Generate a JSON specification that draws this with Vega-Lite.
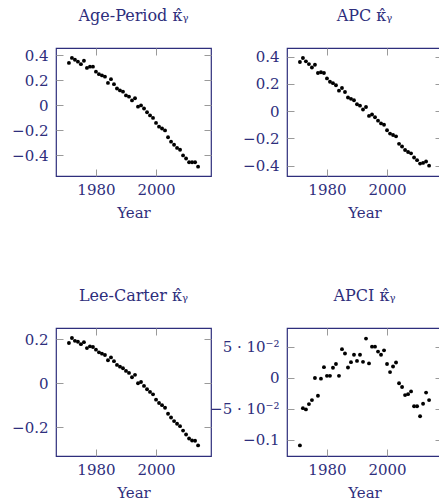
{
  "$schema": "https://vega.github.io/schema/vega-lite/v6.json",
  "padding": {"left": 10, "top": 6, "right": 0, "bottom": 0},
  "background": "white",
  "datasets": {
    "ap": [
      {"year":1971,"k":0.34},{"year":1972,"k":0.38},{"year":1973,"k":0.365},{"year":1974,"k":0.35},{"year":1975,"k":0.33},
      {"year":1976,"k":0.357},{"year":1977,"k":0.30},{"year":1978,"k":0.31},{"year":1979,"k":0.31},{"year":1980,"k":0.27},
      {"year":1981,"k":0.25},{"year":1982,"k":0.24},{"year":1983,"k":0.23},{"year":1984,"k":0.18},{"year":1985,"k":0.21},
      {"year":1986,"k":0.17},{"year":1987,"k":0.135},{"year":1988,"k":0.12},{"year":1989,"k":0.11},{"year":1990,"k":0.08},
      {"year":1991,"k":0.07},{"year":1992,"k":0.04},{"year":1993,"k":0.057},{"year":1994,"k":-0.01},{"year":1995,"k":0.0},
      {"year":1996,"k":-0.025},{"year":1997,"k":-0.055},{"year":1998,"k":-0.08},{"year":1999,"k":-0.10},{"year":2000,"k":-0.14},
      {"year":2001,"k":-0.17},{"year":2002,"k":-0.185},{"year":2003,"k":-0.20},{"year":2004,"k":-0.255},{"year":2005,"k":-0.29},
      {"year":2006,"k":-0.315},{"year":2007,"k":-0.34},{"year":2008,"k":-0.355},{"year":2009,"k":-0.40},{"year":2010,"k":-0.425},
      {"year":2011,"k":-0.455},{"year":2012,"k":-0.455},{"year":2013,"k":-0.455},{"year":2014,"k":-0.49}
    ],
    "apc": [
      {"year":1971,"k":0.36},{"year":1972,"k":0.39},{"year":1973,"k":0.365},{"year":1974,"k":0.345},{"year":1975,"k":0.32},
      {"year":1976,"k":0.34},{"year":1977,"k":0.28},{"year":1978,"k":0.285},{"year":1979,"k":0.28},{"year":1980,"k":0.24},
      {"year":1981,"k":0.215},{"year":1982,"k":0.205},{"year":1983,"k":0.19},{"year":1984,"k":0.15},{"year":1985,"k":0.17},
      {"year":1986,"k":0.14},{"year":1987,"k":0.10},{"year":1988,"k":0.09},{"year":1989,"k":0.08},{"year":1990,"k":0.05},
      {"year":1991,"k":0.04},{"year":1992,"k":0.012},{"year":1993,"k":0.03},{"year":1994,"k":-0.035},{"year":1995,"k":-0.025},
      {"year":1996,"k":-0.045},{"year":1997,"k":-0.07},{"year":1998,"k":-0.09},{"year":1999,"k":-0.10},{"year":2000,"k":-0.14},
      {"year":2001,"k":-0.165},{"year":2002,"k":-0.175},{"year":2003,"k":-0.185},{"year":2004,"k":-0.24},{"year":2005,"k":-0.26},
      {"year":2006,"k":-0.285},{"year":2007,"k":-0.30},{"year":2008,"k":-0.31},{"year":2009,"k":-0.34},{"year":2010,"k":-0.36},
      {"year":2011,"k":-0.385},{"year":2012,"k":-0.38},{"year":2013,"k":-0.37},{"year":2014,"k":-0.40}
    ],
    "lc": [
      {"year":1971,"k":0.182},{"year":1972,"k":0.205},{"year":1973,"k":0.192},{"year":1974,"k":0.188},{"year":1975,"k":0.177},
      {"year":1976,"k":0.186},{"year":1977,"k":0.159},{"year":1978,"k":0.167},{"year":1979,"k":0.164},{"year":1980,"k":0.152},
      {"year":1981,"k":0.14},{"year":1982,"k":0.134},{"year":1983,"k":0.128},{"year":1984,"k":0.104},{"year":1985,"k":0.117},
      {"year":1986,"k":0.10},{"year":1987,"k":0.083},{"year":1988,"k":0.075},{"year":1989,"k":0.068},{"year":1990,"k":0.056},
      {"year":1991,"k":0.047},{"year":1992,"k":0.027},{"year":1993,"k":0.038},{"year":1994,"k":0.0},{"year":1995,"k":0.006},
      {"year":1996,"k":-0.012},{"year":1997,"k":-0.027},{"year":1998,"k":-0.039},{"year":1999,"k":-0.05},{"year":2000,"k":-0.074},
      {"year":2001,"k":-0.089},{"year":2002,"k":-0.099},{"year":2003,"k":-0.111},{"year":2004,"k":-0.138},{"year":2005,"k":-0.155},
      {"year":2006,"k":-0.171},{"year":2007,"k":-0.183},{"year":2008,"k":-0.194},{"year":2009,"k":-0.214},{"year":2010,"k":-0.232},
      {"year":2011,"k":-0.25},{"year":2012,"k":-0.259},{"year":2013,"k":-0.26},{"year":2014,"k":-0.281}
    ],
    "apci": [
      {"year":1971,"k":-0.109},{"year":1972,"k":-0.049},{"year":1973,"k":-0.051},{"year":1974,"k":-0.0425},{"year":1975,"k":-0.036},
      {"year":1976,"k":-0.0005},{"year":1977,"k":-0.029},{"year":1978,"k":-0.0015},{"year":1979,"k":0.017},{"year":1980,"k":0.003},
      {"year":1981,"k":0.003},{"year":1982,"k":0.016},{"year":1983,"k":0.022},{"year":1984,"k":0.003},{"year":1985,"k":0.046},
      {"year":1986,"k":0.039},{"year":1987,"k":0.0165},{"year":1988,"k":0.025},{"year":1989,"k":0.037},{"year":1990,"k":0.027},
      {"year":1991,"k":0.037},{"year":1992,"k":0.0255},{"year":1993,"k":0.063},{"year":1994,"k":0.023},{"year":1995,"k":0.05},
      {"year":1996,"k":0.05},{"year":1997,"k":0.042},{"year":1998,"k":0.037},{"year":1999,"k":0.044},{"year":2000,"k":0.022},
      {"year":2001,"k":0.009},{"year":2002,"k":0.018},{"year":2003,"k":0.0245},{"year":2004,"k":-0.009},{"year":2005,"k":-0.015},
      {"year":2006,"k":-0.028},{"year":2007,"k":-0.0265},{"year":2008,"k":-0.022},{"year":2009,"k":-0.046},{"year":2010,"k":-0.046},
      {"year":2011,"k":-0.062},{"year":2012,"k":-0.042},{"year":2013,"k":-0.024},{"year":2014,"k":-0.036}
    ]
  },
  "bounds": "flush",
  "columns": 2,
  "spacing": {"row": 152, "column": 76},
  "concat": [
    {
      "title": {"text": "Age-Period κ̂ᵧ"},
      "width": 155, "height": 128,
      "data": {"name": "ap"},
      "layer": [
        {"mark": {"type": "circle", "size": 15, "color": "#000000", "opacity": 1},
         "encoding": {
           "x": {"field": "year", "type": "quantitative", "scale": {"domain": [1966.7, 2018.3], "nice": false, "zero": false}, "axis": {"orient": "bottom", "values": [1980, 2000], "format": "d", "title": "Year", "labelPadding": 13}},
           "y": {"field": "k", "type": "quantitative", "scale": {"domain": [-0.5645, 0.459], "nice": false, "zero": false}, "axis": {"orient": "left", "values": [-0.4, -0.2, 0, 0.2, 0.4], "format": ".1~f", "title": null}}}},
        {"mark": {"type": "circle", "opacity": 0},
         "encoding": {
           "x": {"field": "year", "type": "quantitative", "axis": {"orient": "top", "values": [1980, 2000], "labels": false, "title": null}},
           "y": {"field": "k", "type": "quantitative", "axis": {"orient": "right", "values": [-0.4, -0.2, 0, 0.2, 0.4], "labels": false, "title": null}}}}
      ],
      "resolve": {"axis": {"x": "independent", "y": "independent"}}
    },
    {
      "title": {"text": "APC κ̂ᵧ"},
      "width": 155, "height": 128,
      "data": {"name": "apc"},
      "layer": [
        {"mark": {"type": "circle", "size": 15, "color": "#000000", "opacity": 1},
         "encoding": {
           "x": {"field": "year", "type": "quantitative", "scale": {"domain": [1966.7, 2018.3], "nice": false, "zero": false}, "axis": {"orient": "bottom", "values": [1980, 2000], "format": "d", "title": "Year", "labelPadding": 13}},
           "y": {"field": "k", "type": "quantitative", "scale": {"domain": [-0.476, 0.463], "nice": false, "zero": false}, "axis": {"orient": "left", "values": [-0.4, -0.2, 0, 0.2, 0.4], "format": ".1~f", "title": null}}}},
        {"mark": {"type": "circle", "opacity": 0},
         "encoding": {
           "x": {"field": "year", "type": "quantitative", "axis": {"orient": "top", "values": [1980, 2000], "labels": false, "title": null}},
           "y": {"field": "k", "type": "quantitative", "axis": {"orient": "right", "values": [-0.4, -0.2, 0, 0.2, 0.4], "labels": false, "title": null}}}}
      ],
      "resolve": {"axis": {"x": "independent", "y": "independent"}}
    },
    {
      "title": {"text": "Lee-Carter κ̂ᵧ"},
      "width": 155, "height": 128,
      "data": {"name": "lc"},
      "layer": [
        {"mark": {"type": "circle", "size": 15, "color": "#000000", "opacity": 1},
         "encoding": {
           "x": {"field": "year", "type": "quantitative", "scale": {"domain": [1966.7, 2018.3], "nice": false, "zero": false}, "axis": {"orient": "bottom", "values": [1980, 2000], "format": "d", "title": "Year", "labelPadding": 13}},
           "y": {"field": "k", "type": "quantitative", "scale": {"domain": [-0.329, 0.25], "nice": false, "zero": false}, "axis": {"orient": "left", "values": [-0.2, 0, 0.2], "format": ".1~f", "title": null}}}},
        {"mark": {"type": "circle", "opacity": 0},
         "encoding": {
           "x": {"field": "year", "type": "quantitative", "axis": {"orient": "top", "values": [1980, 2000], "labels": false, "title": null}},
           "y": {"field": "k", "type": "quantitative", "axis": {"orient": "right", "values": [-0.2, 0, 0.2], "labels": false, "title": null}}}}
      ],
      "resolve": {"axis": {"x": "independent", "y": "independent"}}
    },
    {
      "title": {"text": "APCI κ̂ᵧ"},
      "width": 155, "height": 128,
      "data": {"name": "apci"},
      "layer": [
        {"mark": {"type": "circle", "size": 15, "color": "#000000", "opacity": 1},
         "encoding": {
           "x": {"field": "year", "type": "quantitative", "scale": {"domain": [1966.7, 2018.3], "nice": false, "zero": false}, "axis": {"orient": "bottom", "values": [1980, 2000], "format": "d", "title": "Year", "labelPadding": 13}},
           "y": {"field": "k", "type": "quantitative", "scale": {"domain": [-0.126, 0.08], "nice": false, "zero": false}, "axis": {"orient": "left", "values": [-0.1, -0.05, 0, 0.05], "labelExpr": "datum.value == 0 ? '0' : (datum.value < -0.07 ? '−0.1' : (datum.value > 0 ? '5 · 10⁻²' : '−5 · 10⁻²'))", "title": null}}}},
        {"mark": {"type": "circle", "opacity": 0},
         "encoding": {
           "x": {"field": "year", "type": "quantitative", "axis": {"orient": "top", "values": [1980, 2000], "labels": false, "title": null}},
           "y": {"field": "k", "type": "quantitative", "axis": {"orient": "right", "values": [-0.1, -0.05, 0, 0.05], "labels": false, "title": null}}}}
      ],
      "resolve": {"axis": {"x": "independent", "y": "independent"}}
    }
  ],
  "config": {
    "font": "DejaVu Serif",
    "view": {"stroke": "#2e2e7c", "strokeWidth": 1.2},
    "axis": {
      "domain": false, "grid": false,
      "tickSize": -7, "tickColor": "#9a9a9a", "tickWidth": 1,
      "labelPadding": 15, "labelFont": "DejaVu Serif", "labelFontSize": 15, "labelColor": "#2e2e7c",
      "titleFont": "DejaVu Serif", "titleFontSize": 15, "titleFontWeight": "normal", "titleColor": "#2e2e7c", "titlePadding": 8
    },
    "title": {"font": "DejaVu Serif", "fontSize": 16, "fontWeight": "normal", "color": "#2e2e7c", "offset": 24}
  }
}
